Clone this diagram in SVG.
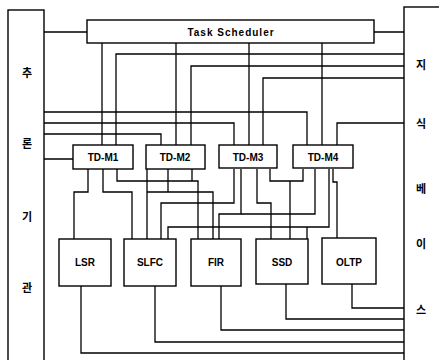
<svg xmlns="http://www.w3.org/2000/svg" width="439" height="360" viewBox="0 0 439 360">
<style>
.box{fill:#fff;stroke:#000;stroke-width:1.4}
.ln{fill:none;stroke:#000;stroke-width:1.3}
.t{font-family:"Liberation Sans",Arial,sans-serif;font-weight:bold;font-size:10px;text-anchor:middle;dominant-baseline:central;fill:#000}
.k{font-family:"Noto Sans CJK KR",sans-serif;font-weight:bold;font-size:11px;text-anchor:middle;dominant-baseline:central;fill:#000}
</style>
<rect width="439" height="360" fill="#fff"/>
<g id="connectors">
<path class="ln" d="M44 32H87M374 32H404"/>
<path class="ln" d="M102 43V145M176 43V145M249 43V145M322 43V145"/>
<path class="ln" d="M404 54H116V145M404 66H191V145M404 78H263V145M404 123H337V145"/>
<path class="ln" d="M44 112H307V145M44 123H234V145M44 134H161V145M44 159H73"/>
<path class="ln" d="M88 169V192H74V239M103 169V192H132V239M117 169V181H198V239"/>
<path class="ln" d="M147 169V239M168 169V192M147 192H213V239M192 169V181"/>
<path class="ln" d="M234 169V203H161V239M241 169V214H219V239M257 169V203H271V239M270 169V181H303V169M290 181V239"/>
<path class="ln" d="M315 169V214H241M329 169V227H168V239M307 227V239M333 169V182H337V238"/>
<path class="ln" d="M81 286V353H404M155 286V342H404M221 286V330H404M286 284V319H404M352 284V308H404"/>
</g>
<g id="left-bar"><rect class="box" x="8" y="10" width="36" height="352"/>
<text class="k" x="27" y="72">추</text><text class="k" x="27" y="143">론</text><text class="k" x="27" y="216">기</text><text class="k" x="27" y="287">관</text></g>
<g id="right-bar"><rect class="box" x="404" y="7" width="40" height="355"/>
<text class="k" x="421" y="64">지</text><text class="k" x="421" y="123">식</text><text class="k" x="421" y="188">베</text><text class="k" x="421" y="243">이</text><text class="k" x="421" y="309">스</text></g>
<g id="task-scheduler"><rect class="box" x="87" y="20" width="287" height="23"/><text class="t" x="231" y="32" style="letter-spacing:1px">Task Scheduler</text></g>
<g id="td-m1"><rect class="box" x="73" y="145" width="60" height="24"/><text class="t" x="103" y="157">TD-M1</text></g>
<g id="td-m2"><rect class="box" x="146" y="145" width="59" height="24"/><text class="t" x="175" y="157">TD-M2</text></g>
<g id="td-m3"><rect class="box" x="219" y="145" width="58" height="23"/><text class="t" x="248" y="157">TD-M3</text></g>
<g id="td-m4"><rect class="box" x="293" y="145" width="60" height="23"/><text class="t" x="323" y="157">TD-M4</text></g>
<g id="lsr"><rect class="box" x="59" y="239" width="52" height="47"/><text class="t" x="85" y="262">LSR</text></g>
<g id="slfc"><rect class="box" x="124" y="239" width="52" height="47"/><text class="t" x="150" y="262">SLFC</text></g>
<g id="fir"><rect class="box" x="191" y="239" width="50" height="47"/><text class="t" x="216" y="262">FIR</text></g>
<g id="ssd"><rect class="box" x="256" y="239" width="52" height="45"/><text class="t" x="282" y="262">SSD</text></g>
<g id="oltp"><rect class="box" x="322" y="238" width="54" height="46"/><text class="t" x="349" y="262">OLTP</text></g>
</svg>
